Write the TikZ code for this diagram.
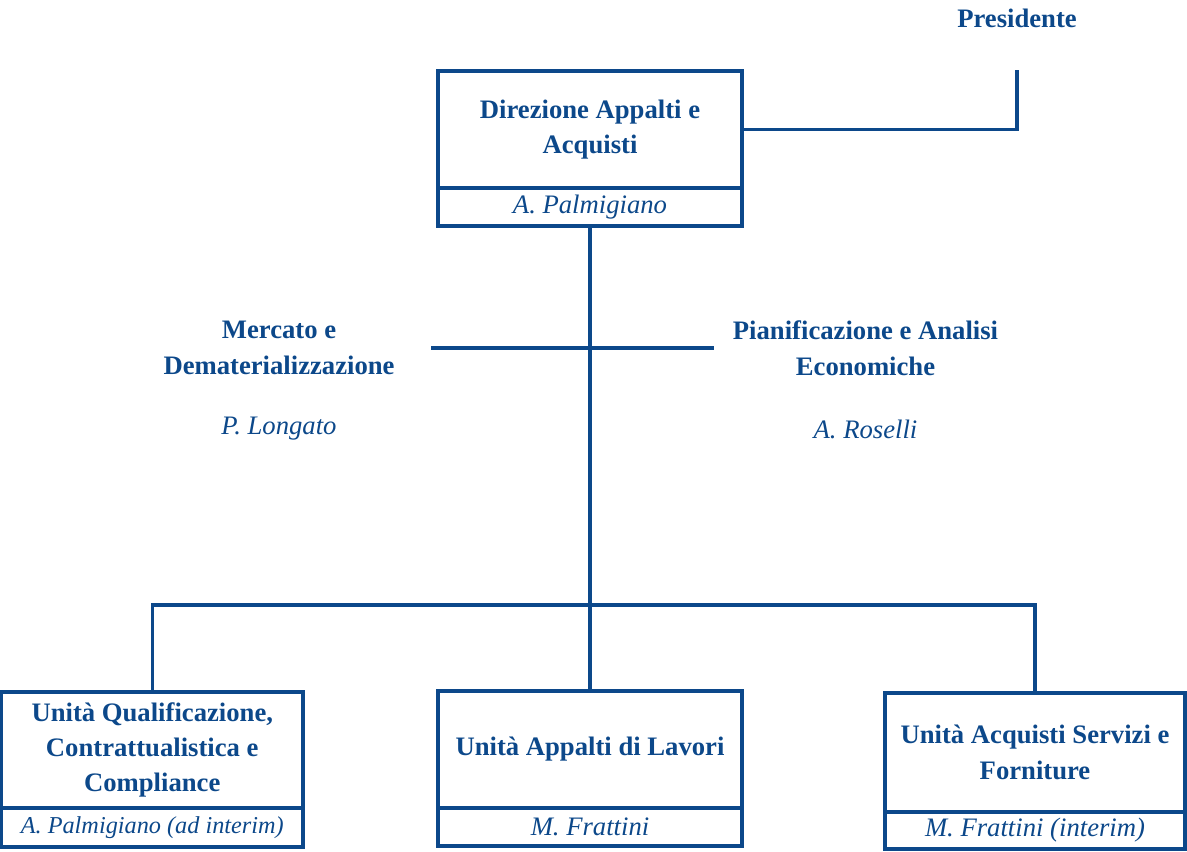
\documentclass[tikz,border=0pt]{standalone}
\usepackage{fontspec}
\setmainfont{Liberation Serif}
\definecolor{navy}{RGB}{12,72,138}
\tikzset{
  conn/.style={draw=navy, line width=2.5pt},
  titlebox/.style={draw=navy, line width=2.5pt, align=center, inner sep=0pt, text=navy,
    font=\fontsize{20}{26.5}\selectfont\bfseries},
  namebox/.style={draw=navy, line width=2.5pt, align=center, inner sep=0pt, text=navy,
    font=\fontsize{20}{27}\selectfont\itshape},
  btext/.style={align=center, inner sep=0pt, text=navy, font=\fontsize{20}{27}\selectfont\bfseries},
  itext/.style={align=center, inner sep=0pt, text=navy, font=\fontsize{20}{27}\selectfont\itshape}
}
\begin{document}
\begin{tikzpicture}[x=0.75pt,y=-0.75pt]
\useasboundingbox (0,0) rectangle (1187,851);

% Presidente
\node[btext] (pres) at (1017,18) {Presidente};
\coordinate (prestop) at (1017,70);

% Direzione
\node[titlebox, minimum width=228pt, minimum height=87.75pt] (dir) at (590,129.5) {Direzione Appalti e\\Acquisti};
\node[namebox, minimum width=228pt, minimum height=28.5pt] (dirname) at (590,207) {A. Palmigiano};

% Staff
\node[btext] (merc) at (279,348) {Mercato e\\Dematerializzazione};
\node[itext] (mercname) at (279,429) {P. Longato};
\node[btext] (pian) at (865.5,348) {Pianificazione e Analisi\\Economiche};
\node[itext] (pianname) at (865.5,429) {A. Roselli};
\coordinate (staffL) at (431,348);
\coordinate (staffR) at (714,348);

% Units
\node[titlebox, minimum width=226.1pt, minimum height=87pt] (qual) at (152.25,750) {Unità Qualificazione,\\Contrattualistica e\\Compliance};
\node[namebox, minimum width=226.1pt, minimum height=29.25pt, font=\fontsize{18.2}{24}\selectfont\itshape] (qualname) at (152.25,827.5) {A. Palmigiano (ad interim)};

\node[titlebox, minimum width=228pt, minimum height=87.75pt] (lav) at (590,749.5) {Unità Appalti di Lavori};
\node[namebox, minimum width=228pt, minimum height=28.5pt] (lavname) at (590,827) {M. Frattini};

\node[titlebox, minimum width=225pt, minimum height=89.25pt] (acq) at (1035,752.5) {Unità Acquisti Servizi e\\Forniture};
\node[namebox, minimum width=225pt, minimum height=27.75pt] (acqname) at (1035,830.5) {M. Frattini (interim)};

\coordinate (bus) at (590,605);

% Connectors
\draw[conn] (dir.east) -| (prestop);
\draw[conn] (dirname.south) -- (bus) -- (lav.north);
\draw[conn] (staffL) -- (staffR);
\draw[conn] (qual.north) -- (qual.north |- bus) -- (acq.north |- bus) -- (acq.north);
\end{tikzpicture}
\end{document}
